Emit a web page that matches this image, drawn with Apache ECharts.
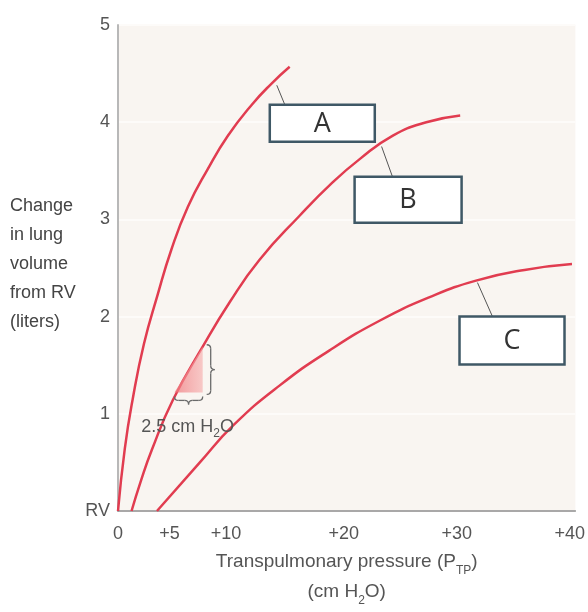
<!DOCTYPE html>
<html>
<head>
<meta charset="utf-8">
<script src="https://cdn.jsdelivr.net/npm/echarts@6/dist/echarts.min.js"></script>
<style>
html,body{margin:0;padding:0;background:#ffffff;}
#c{width:588px;height:612px;}
</style>
</head>
<body>
<div id="c"></div>
<script>
// ---- data ----
const xTickValues = [0, 5, 10, 20, 30, 40];
const xTickLabels = ['0', '+5', '+10', '+20', '+30', '+40'];
const yTickValues = [0, 1, 2, 3, 4, 5];
const yTickLabels = ['RV', '1', '2', '3', '4', '5'];

const curveA_x = [0, 0.6, 1.3, 2.3, 3.5, 4.7, 6.19, 7.96, 9.73, 11.85, 13.62, 15.2];
const curveA_y = [0, 0.64, 1.15, 1.72, 2.22, 2.68, 3.13, 3.52, 3.86, 4.18, 4.40, 4.57];

const curveB_x = [1.2, 2.0, 3.0, 4.85, 7.5, 9.9, 12.5, 16.1, 19.0, 21.4, 24.3, 27.3, 30.3];
const curveB_y = [0, 0.30, 0.63, 1.14, 1.69, 2.15, 2.58, 3.04, 3.38, 3.62, 3.86, 4.00, 4.07];

const curveC_x = [3.45, 7.25, 10.2, 14.3, 18.7, 23.2, 27.6, 31.7, 36.0, 40.2];
const curveC_y = [0, 0.50, 0.88, 1.29, 1.65, 1.96, 2.20, 2.37, 2.48, 2.54];

const curveNames = ['A', 'B', 'C'];

// annotation: shaded compliance triangle on curve B (x from 5 to 7.5)
const triX = [5.0, 7.5];
const triY = [1.22, 1.69];
const triLabel = '2.5 cm H';

// label boxes: top-left corner in data units; leader line endpoints in data units
const boxCorners = [[13.44, 4.18], [20.95, 3.44], [30.24, 2.00]];
const leaderFrom = [[14.06, 4.38], [23.34, 3.75], [31.83, 2.35]];
const leaderTo = [[14.77, 4.18], [24.30, 3.44], [33.16, 2.00]];

// ---- chart ----
const FONT = "'Liberation Sans', Arial, sans-serif";
const RED = '#e13c50';
const zip = (xs, ys) => xs.map((x, i) => [x, ys[i]]);

const chart = echarts.init(document.getElementById('c'));

const option = {
  animation: false,
  backgroundColor: '#ffffff',
  grid: {left: 118, right: 12, top: 25, bottom: 100, show: true, backgroundColor: '#f9f5f1', borderWidth: 0},
  xAxis: {
    type: 'value', min: 0, max: 40.5, interval: 5,
    axisLine: {show: true, onZero: false, lineStyle: {color: '#8d8d8d', width: 1.5}},
    axisTick: {show: false},
    splitLine: {show: false},
    axisLabel: {
      showMaxLabel: false, showMinLabel: true, margin: 14, color: '#555', fontSize: 18, fontFamily: FONT,
      formatter: function (v) {
        const i = xTickValues.indexOf(v);
        if (i < 0) return '';
        if (v === 5 || v === 10) return '{sh|' + xTickLabels[i] + '}';
        return xTickLabels[i];
      },
      rich: {sh: {fontSize: 18, color: '#555', fontFamily: FONT, padding: [0, 10, 0, 0]}}
    },
    name: '{t|Transpulmonary pressure (P}{s|TP}{t|)}\n{t|(cm H}{s|2}{t|O)}',
    nameLocation: 'middle', nameGap: 36,
    nameTextStyle: {
      rich: {
        t: {fontSize: 19, color: '#555', fontFamily: FONT, lineHeight: 30},
        s: {fontSize: 12, color: '#555', fontFamily: FONT, lineHeight: 18, verticalAlign: 'bottom'}
      }
    }
  },
  yAxis: {
    type: 'value', min: 0, max: 5, interval: 1,
    axisLine: {show: true, lineStyle: {color: '#b8b8b8', width: 2}},
    axisTick: {show: false},
    splitLine: {show: true, lineStyle: {color: '#fdfbf9', width: 2}},
    axisLabel: {
      margin: 8, color: '#555', fontSize: 18, fontFamily: FONT,
      formatter: function (v) {
        const i = yTickValues.indexOf(v);
        return i < 0 ? '' : yTickLabels[i];
      }
    }
  },
  series: [
    {name: curveNames[0], data: zip(curveA_x, curveA_y)},
    {name: curveNames[1], data: zip(curveB_x, curveB_y)},
    {name: curveNames[2], data: zip(curveC_x, curveC_y)}
  ].map(s => Object.assign({
    type: 'line', showSymbol: false, smooth: 0.5, silent: true,
    lineStyle: {color: RED, width: 2.5}
  }, s))
};
chart.setOption(option);

function px(p) { return chart.convertToPixel({gridIndex: 0}, p); }

const BRACE_STYLE = {fill: 'none', stroke: '#6a6a6a', lineWidth: 1.3};
function seg(x1, y1, cx, cy, x2, y2) {
  return {type: 'bezierCurve', silent: true, z: 6,
    shape: {x1: x1, y1: y1, cpx1: cx, cpy1: cy, x2: x2, y2: y2}, style: BRACE_STYLE};
}
function lin(x1, y1, x2, y2) {
  return {type: 'line', silent: true, z: 6,
    shape: {x1: x1, y1: y1, x2: x2, y2: y2}, style: BRACE_STYLE};
}
function vBrace(x, y1, y2, w) {
  const ym = (y1 + y2) / 2, h = w / 2;
  return [
    seg(x, y1, x + h, y1, x + h, y1 + h),
    lin(x + h, y1 + h, x + h, ym - h),
    seg(x + h, ym - h, x + h, ym, x + w, ym),
    seg(x + w, ym, x + h, ym, x + h, ym + h),
    lin(x + h, ym + h, x + h, y2 - h),
    seg(x + h, y2 - h, x + h, y2, x, y2)
  ];
}
function hBrace(y, x1, x2, w) {
  const xm = (x1 + x2) / 2, h = w / 2;
  return [
    seg(x1, y, x1, y + h, x1 + h, y + h),
    lin(x1 + h, y + h, xm - h, y + h),
    seg(xm - h, y + h, xm, y + h, xm, y + w),
    seg(xm, y + w, xm, y + h, xm + h, y + h),
    lin(xm + h, y + h, x2 - h, y + h),
    seg(x2 - h, y + h, x2, y + h, x2, y)
  ];
}

const graphics = [];

// triangle
const t1 = px([triX[0], triY[0]]);
const t2 = px([triX[1], triY[1]]);
const t3 = px([triX[1], triY[0]]);
graphics.push({
  type: 'polygon', silent: true, z: 5,
  shape: {points: [t1, t2, t3]},
  style: {fill: new echarts.graphic.LinearGradient(0, 0, 1, 0, [
    {offset: 0, color: 'rgba(240,120,125,0.75)'},
    {offset: 1, color: 'rgba(246,170,170,0.6)'}
  ])}
});
// braces
vBrace(t2[0] + 4, t2[1] - 2, t3[1] + 2, 8).forEach(g => graphics.push(g));
hBrace(t3[1] + 4, t1[0], t3[0], 8).forEach(g => graphics.push(g));
graphics.push({
  type: 'text', silent: true, z: 6,
  style: {
    x: (t1[0] + t3[0]) / 2 - 1, y: t3[1] + 35,
    text: '{t|' + triLabel + '}{s|2}{t|O}',
    align: 'center', verticalAlign: 'middle',
    rich: {
      t: {fontSize: 18, fill: '#555', fontFamily: FONT, lineHeight: 24},
      s: {fontSize: 12, fill: '#555', fontFamily: FONT, lineHeight: 16, verticalAlign: 'bottom'}
    }
  }
});

// label boxes
const boxSizes = [[105, 37], [107, 46], [105, 48]];
curveNames.forEach((name, i) => {
  const a = px(leaderFrom[i]), b = px(leaderTo[i]);
  graphics.push({
    type: 'line', silent: true, z: 7,
    shape: {x1: a[0], y1: a[1], x2: b[0], y2: b[1]},
    style: {stroke: '#555', lineWidth: 1}
  });
  const c = px(boxCorners[i]);
  const w = boxSizes[i][0], h = boxSizes[i][1];
  graphics.push({
    type: 'rect', silent: true, z: 8,
    shape: {x: c[0], y: c[1], width: w, height: h},
    style: {fill: '#ffffff', stroke: '#3f5866', lineWidth: 2.5}
  });
  graphics.push({
    type: 'text', silent: true, z: 9,
    style: {
      x: c[0] + w / 2, y: c[1] + h / 2 + 1, text: name,
      align: 'center', verticalAlign: 'middle',
      fontSize: 27, fontFamily: "'Open Sans', 'DejaVu Sans', sans-serif", fill: '#333'
    }
  });
});

// y axis title
graphics.push({
  type: 'text', silent: true, z: 9, left: 10, top: 192,
  style: {
    text: 'Change\nin lung\nvolume\nfrom RV\n(liters)',
    fontSize: 18, fontFamily: FONT, fill: '#444', lineHeight: 29
  }
});

chart.setOption({graphic: graphics});
</script>
</body>
</html>
